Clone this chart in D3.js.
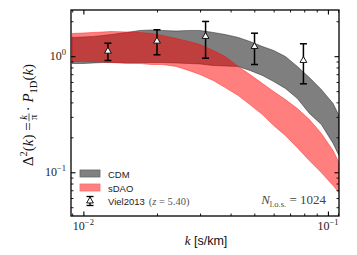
<!DOCTYPE html>
<html><head><meta charset="utf-8">
<script src="https://cdn.jsdelivr.net/npm/d3@7"></script>
<style>html,body{margin:0;padding:0;background:#fff;}svg{display:block;}</style>
</head><body>
<svg id="c" width="357" height="255"></svg>
<script>
// ---- data ----
const kGrid   = [0.009, 0.010, 0.011, 0.012, 0.013, 0.015, 0.017, 0.019, 0.021, 0.024, 0.027, 0.030, 0.034, 0.038, 0.043, 0.048, 0.054, 0.060, 0.067, 0.075, 0.084, 0.094, 0.105, 0.111];
const cdmHigh = [1.450, 1.464, 1.479, 1.508, 1.538, 1.601, 1.666, 1.682, 1.666, 1.649, 1.666, 1.666, 1.601, 1.538, 1.450, 1.339, 1.212, 1.120, 0.994, 0.815, 0.655, 0.516, 0.391, 0.308];
const cdmLow  = [0.865, 0.865, 0.874, 0.882, 0.882, 0.882, 0.882, 0.882, 0.882, 0.874, 0.865, 0.857, 0.831, 0.823, 0.815, 0.753, 0.682, 0.605, 0.527, 0.432, 0.321, 0.258, 0.177, 0.139];
const sdaoHigh= [1.569, 1.585, 1.601, 1.617, 1.633, 1.617, 1.601, 1.569, 1.508, 1.421, 1.339, 1.261, 1.120, 0.994, 0.815, 0.695, 0.582, 0.496, 0.423, 0.354, 0.285, 0.216, 0.154, 0.121];
const sdaoLow = [0.900, 0.900, 0.900, 0.891, 0.882, 0.865, 0.865, 0.848, 0.848, 0.815, 0.753, 0.695, 0.617, 0.537, 0.458, 0.383, 0.314, 0.253, 0.207, 0.163, 0.126, 0.0994, 0.0768, 0.0668];
const vielK   = [0.0126, 0.0200, 0.0316, 0.0501, 0.0794];
const vielD   = [1.104, 1.347, 1.479, 1.212, 0.918];
const vielLo  = [0.918, 1.028, 0.961, 0.848, 0.578];
const vielHi  = [1.294, 1.689, 1.992, 1.578, 1.279];
const xMajor = [0.01, 0.1];
const xMajorExp = ["−2", "−1"];
const xMinor = [0.009, 0.02, 0.03, 0.04, 0.05, 0.06, 0.07, 0.08, 0.09, 0.11];
const yMajor = [0.1, 1];
const yMajorExp = ["−1", "0"];
const yMinor = [0.05, 0.06, 0.07, 0.08, 0.09, 0.2, 0.3, 0.4, 0.5, 0.6, 0.7, 0.8, 0.9, 2];
const legendLabels = ["CDM", "sDAO", "Viel2013"];

// ---- layout ----
const L = 71, R = 339, T = 10, B = 216;
const svg = d3.select("#c");
const x = d3.scaleLog().domain([0.0089, 0.111]).range([L, R]);
const y = d3.scaleLog().domain([0.042, 2.5]).range([B, T]);

svg.append("defs").append("clipPath").attr("id", "clip")
  .append("rect").attr("x", L).attr("y", T).attr("width", R - L).attr("height", B - T);

const plot = svg.append("g").attr("clip-path", "url(#clip)");
const area = d3.area().x(d => x(d.k)).y0(d => y(d.lo)).y1(d => y(d.hi));
const cdm = kGrid.map((k, i) => ({k, lo: cdmLow[i], hi: cdmHigh[i]}));
const sdao = kGrid.map((k, i) => ({k, lo: sdaoLow[i], hi: sdaoHigh[i]}));

plot.append("path").datum(cdm).attr("d", area)
  .attr("fill", "rgb(0,0,0)").attr("fill-opacity", 0.5)
  .attr("stroke", "rgb(0,0,0)").attr("stroke-opacity", 0.5).attr("stroke-width", 0.8);
plot.append("path").datum(sdao).attr("d", area)
  .attr("fill", "rgb(255,0,0)").attr("fill-opacity", 0.5)
  .attr("stroke", "rgb(255,0,0)").attr("stroke-opacity", 0.5).attr("stroke-width", 0.8);

// error bars
const eb = plot.append("g");
vielK.forEach((k, i) => {
  const cx = x(k);
  eb.append("line").attr("x1", cx).attr("x2", cx).attr("y1", y(vielLo[i])).attr("y2", y(vielHi[i]))
    .attr("stroke", "#000").attr("stroke-width", 1.5);
  [vielLo[i], vielHi[i]].forEach(v => {
    eb.append("line").attr("x1", cx - 3.5).attr("x2", cx + 3.5).attr("y1", y(v)).attr("y2", y(v))
      .attr("stroke", "#000").attr("stroke-width", 1.5);
  });
  eb.append("path").attr("d", d3.symbol(d3.symbolTriangle, 20)())
    .attr("transform", `translate(${cx},${y(vielD[i])})`)
    .attr("fill", "#fff").attr("stroke", "#000").attr("stroke-width", 0.9);
});

// ---- axes (ticks inward on all four sides) ----
function axisG(axisFn, scale, vals, size, tr) {
  const g = svg.append("g").attr("transform", tr)
    .call(axisFn(scale).tickValues(vals).tickSize(size).tickFormat(""));
  g.select(".domain").remove();
  g.selectAll(".tick line").attr("stroke", "#000").attr("stroke-width", Math.abs(size) > 3 ? 1.1 : 0.9);
  return g;
}
axisG(d3.axisBottom, x, xMajor, -4.5, `translate(0,${B})`);
axisG(d3.axisBottom, x, xMinor, -2.5, `translate(0,${B})`);
axisG(d3.axisTop, x, xMajor, -4.5, `translate(0,${T})`);
axisG(d3.axisTop, x, xMinor, -2.5, `translate(0,${T})`);
axisG(d3.axisLeft, y, yMajor, -4.5, `translate(${L},0)`);
axisG(d3.axisLeft, y, yMinor, -2.5, `translate(${L},0)`);
axisG(d3.axisRight, y, yMajor, -4.5, `translate(${R},0)`);
axisG(d3.axisRight, y, yMinor, -2.5, `translate(${R},0)`);

svg.append("rect").attr("x", L).attr("y", T).attr("width", R - L).attr("height", B - T)
  .attr("fill", "none").attr("stroke", "#000").attr("stroke-width", 1.3);

const serif = "'Liberation Serif', 'DejaVu Serif', serif";
const sans = "'Liberation Sans', Arial, sans-serif";

// tick labels
xMajor.forEach((v, i) => {
  const t = svg.append("text").attr("x", x(v)).attr("y", B + 14).attr("text-anchor", "middle")
    .attr("font-family", serif).attr("font-size", 12).attr("fill", "#222");
  t.append("tspan").text("10");
  t.append("tspan").attr("dy", -5).attr("font-size", 8.5).text(xMajorExp[i]);
});
yMajor.forEach((v, i) => {
  const t = svg.append("text").attr("x", L - 5).attr("y", y(v) + 4).attr("text-anchor", "end")
    .attr("font-family", serif).attr("font-size", 12).attr("fill", "#222");
  t.append("tspan").text("10");
  t.append("tspan").attr("dy", -5).attr("font-size", 8.5).text(yMajorExp[i]);
});

// x label
const xl = svg.append("text").attr("x", 206).attr("y", 245).attr("text-anchor", "middle").attr("fill", "#111");
xl.append("tspan").attr("font-family", serif).attr("font-style", "italic").attr("font-size", 13).text("k");
xl.append("tspan").attr("font-family", sans).attr("font-size", 12.5).text(" [s/km]");

// y label (rotated)
const yl = svg.append("g").attr("transform", "translate(29,115) rotate(-90)");
const inner = yl.append("g");
const fs = 15, fss = 10.5;
const pA = inner.append("text").attr("x", 0).attr("y", 0).attr("font-family", serif).attr("font-size", fs).attr("fill", "#111");
pA.append("tspan").text("Δ");
pA.append("tspan").attr("dy", -6).attr("font-size", fss).text("2");
pA.append("tspan").attr("dy", 6).text("(");
pA.append("tspan").attr("font-style", "italic").text("k");
pA.append("tspan").text(") = ");
const wA = pA.node().getComputedTextLength();
const fx = wA + 1;
inner.append("text").attr("x", fx + 4).attr("y", -6).attr("text-anchor", "middle")
  .attr("font-family", serif).attr("font-style", "italic").attr("font-size", fss).attr("fill", "#111").text("k");
inner.append("line").attr("x1", fx).attr("x2", fx + 8).attr("y1", -4).attr("y2", -4).attr("stroke", "#111").attr("stroke-width", 0.7);
inner.append("text").attr("x", fx + 4).attr("y", 4).attr("text-anchor", "middle")
  .attr("font-family", serif).attr("font-size", fss).attr("fill", "#111").text("π");
const pB = inner.append("text").attr("x", fx + 10).attr("y", 0).attr("font-family", serif).attr("font-size", fs).attr("fill", "#111");
pB.append("tspan").text(" · ");
pB.append("tspan").attr("font-style", "italic").text("P");
pB.append("tspan").attr("dy", 3.5).attr("font-size", fss).text("1D");
pB.append("tspan").attr("dy", -3.5).text("(");
pB.append("tspan").attr("font-style", "italic").text("k");
pB.append("tspan").text(")");
const total = fx + 10 + pB.node().getComputedTextLength();
inner.attr("transform", `translate(${-total / 2},4)`);

// legend
const lg = svg.append("g");
lg.append("rect").attr("x", 80).attr("y", 170).attr("width", 20).attr("height", 7)
  .attr("fill", "rgb(128,128,128)").attr("stroke", "rgb(100,100,100)").attr("stroke-width", 0.8);
lg.append("rect").attr("x", 80).attr("y", 184).attr("width", 20).attr("height", 7)
  .attr("fill", "rgb(255,128,128)").attr("stroke", "rgb(255,110,110)").attr("stroke-width", 0.8);
lg.append("line").attr("x1", 90).attr("x2", 90).attr("y1", 196.5).attr("y2", 205.5).attr("stroke", "#000").attr("stroke-width", 1.3);
[196.5, 205.5].forEach(v => lg.append("line").attr("x1", 86.5).attr("x2", 93.5).attr("y1", v).attr("y2", v).attr("stroke", "#000").attr("stroke-width", 1.3));
lg.append("path").attr("d", d3.symbol(d3.symbolTriangle, 20)()).attr("transform", "translate(90,201)")
  .attr("fill", "#fff").attr("stroke", "#000").attr("stroke-width", 0.9);
[177.5, 191.5].forEach((yy, i) => lg.append("text").attr("x", 108).attr("y", yy)
  .attr("font-family", sans).attr("font-size", 9.5).attr("fill", "#222").text(legendLabels[i]));
const vt = lg.append("text").attr("x", 108).attr("y", 205).attr("font-family", sans).attr("font-size", 9.5).attr("fill", "#222");
vt.append("tspan").text(legendLabels[2]);
const zs = vt.append("tspan").attr("dx", 4).attr("font-family", serif).attr("font-size", 10.5).attr("fill", "#555");
zs.append("tspan").text("(");
zs.append("tspan").attr("font-style", "italic").text("z");
zs.append("tspan").text(" = 5.40)");

// N_los annotation
const nt = svg.append("text").attr("x", 326).attr("y", 204).attr("text-anchor", "end")
  .attr("font-family", serif).attr("font-size", 13).attr("fill", "#444");
nt.append("tspan").attr("font-style", "italic").text("N");
nt.append("tspan").attr("dy", 2.5).attr("font-size", 8.5).text("l.o.s.");
nt.append("tspan").attr("dy", -2.5).text(" = 1024");
</script>
</body></html>
